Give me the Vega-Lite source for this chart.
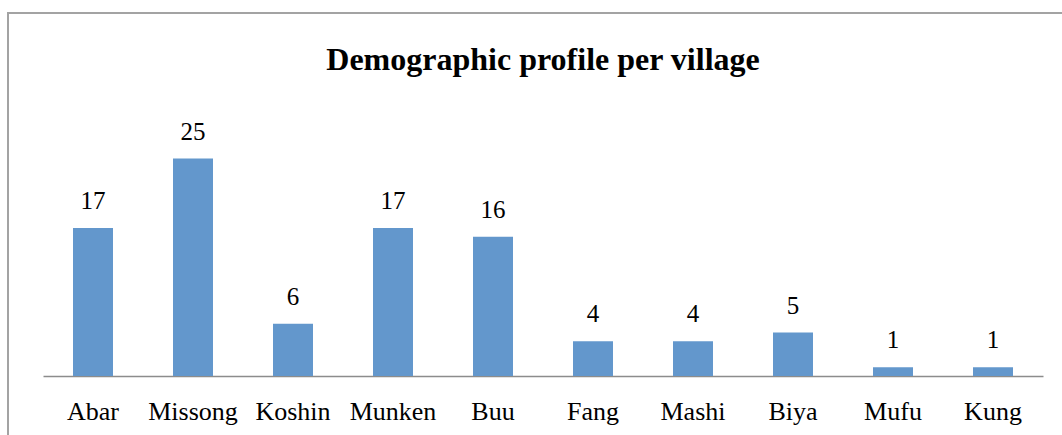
{
  "$schema": "https://vega.github.io/schema/vega-lite/v6.json",
  "width": 1070,
  "height": 450,
  "autosize": {"type": "none"},
  "padding": {"left": 8, "top": 13, "right": 0, "bottom": 0},
  "background": "white",
  "title": {
    "text": "Demographic profile per village",
    "font": "Liberation Serif",
    "fontSize": 32,
    "fontWeight": "bold",
    "color": "#000000",
    "anchor": "middle",
    "frame": "group",
    "baseline": "alphabetic",
    "offset": -89
  },
  "config": {
    "view": {"stroke": "#a3a3a3", "strokeWidth": 2},
    "axis": {"grid": false}
  },
  "data": {
    "values": [
      {"village": "Abar", "count": 17},
      {"village": "Missong", "count": 25},
      {"village": "Koshin", "count": 6},
      {"village": "Munken", "count": 17},
      {"village": "Buu", "count": 16},
      {"village": "Fang", "count": 4},
      {"village": "Mashi", "count": 4},
      {"village": "Biya", "count": 5},
      {"village": "Mufu", "count": 1},
      {"village": "Kung", "count": 1}
    ]
  },
  "encoding": {
    "x": {
      "field": "village",
      "type": "nominal",
      "sort": null,
      "scale": {"range": [35, 1035], "paddingInner": 0.6, "paddingOuter": 0.3},
      "axis": {
        "title": null,
        "orient": "bottom",
        "offset": -87,
        "ticks": false,
        "labelAngle": 0,
        "labelFont": "Liberation Serif",
        "labelFontSize": 26,
        "labelColor": "#000000",
        "labelBaseline": "alphabetic",
        "labelPadding": 43,
        "domainColor": "#8c8c8c",
        "domainWidth": 1.5
      }
    },
    "y": {
      "field": "count",
      "type": "quantitative",
      "scale": {"domain": [0, 30], "range": [363, 102]},
      "axis": null
    }
  },
  "layer": [
    {"mark": {"type": "bar", "color": "#6397cc"}},
    {
      "mark": {
        "type": "text",
        "font": "Liberation Serif",
        "fontSize": 25,
        "color": "#000000",
        "align": "center",
        "baseline": "alphabetic",
        "dy": -19
      },
      "encoding": {"text": {"field": "count", "type": "quantitative"}}
    }
  ]
}
